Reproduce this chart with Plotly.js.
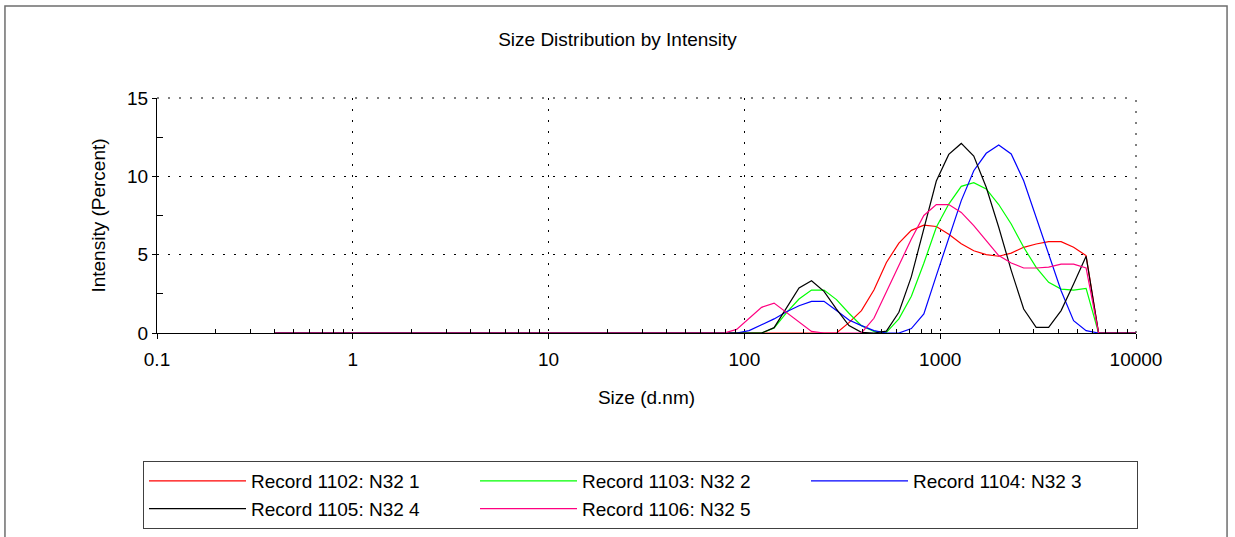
<!DOCTYPE html>
<html>
<head>
<meta charset="utf-8">
<script src="https://cdn.plot.ly/plotly-3.0.1.min.js"></script>
<style>
html,body{margin:0;padding:0;background:#fff;}
#chart{width:1235px;height:537px;}
</style>
</head>
<body>
<div id="chart"></div>
<script>
// Size bins (d.nm)
var sizes = [0.4,0.4632,0.5365,0.6213,0.7195,0.8332,0.9649,1.117,1.294,1.499,
  1.736,2.01,2.328,2.696,3.122,3.615,4.187,4.849,5.615,6.503,
  7.531,8.721,10.1,11.7,13.54,15.69,18.17,21.04,24.36,28.21,
  32.67,37.84,43.82,50.75,58.77,68.06,78.82,91.28,105.7,122.4,
  141.8,164.2,190.1,220.2,255,295.3,342,396.1,458.7,531.2,
  615.1,712.4,825,955.4,1106,1281,1484,1718,1990,2305,
  2669,3091,3580,4145,4801,5560,6439,7456,8635,10000];

var names = ["Record 1102: N32 1","Record 1103: N32 2","Record 1104: N32 3","Record 1105: N32 4","Record 1106: N32 5"];
var colors = ["#ff0000","#00ff00","#0000ff","#000000","#ff0080"];

var rec1102 = [0,0,0,0,0,0,0,0,0,0, 0,0,0,0,0,0,0,0,0,0, 0,0,0,0,0,0,0,0,0,0, 0,0,0,0,0,0,0,
  0,0,0,0,0,0,0,0,0,0.66,1.43,2.74,4.5,5.74,6.55,6.88,6.8,6.3,5.7,5.25,5.0,4.9,5.1,5.47,5.68,5.83,5.83,5.47,4.94,0,0,0,0];
var rec1103 = [0,0,0,0,0,0,0,0,0,0, 0,0,0,0,0,0,0,0,0,0, 0,0,0,0,0,0,0,0,0,0, 0,0,0,0,0,0,0,
  0,0,0,0.32,1.3,2.17,2.74,2.74,2.13,1.26,0.47,0.1,0.04,0.9,2.35,4.45,6.75,8.23,9.36,9.6,9.2,8.2,6.96,5.47,4.19,3.23,2.8,2.74,2.85,0,0,0,0];
var rec1104 = [0,0,0,0,0,0,0,0,0,0, 0,0,0,0,0,0,0,0,0,0, 0,0,0,0,0,0,0,0,0,0, 0,0,0,0,0,0,0,
  0,0.15,0.5,0.9,1.36,1.74,2.02,2.02,1.43,0.83,0.47,0.15,0,0,0.28,1.22,3.66,6.1,8.45,10.36,11.47,12.0,11.43,9.72,7.38,5.04,2.7,0.79,0.15,0,0,0,0];
var rec1105 = [0,0,0,0,0,0,0,0,0,0, 0,0,0,0,0,0,0,0,0,0, 0,0,0,0,0,0,0,0,0,0, 0,0,0,0,0,0,0,
  0,0,0,0.34,1.64,2.87,3.34,2.66,1.53,0.47,0.04,0,0.12,1.32,3.6,6.6,9.7,11.4,12.1,11.3,9.3,6.75,4.0,1.53,0.36,0.36,1.43,3.13,4.9,0,0,0,0];
var rec1106 = [0,0,0,0,0,0,0,0,0,0, 0,0,0,0,0,0,0,0,0,0, 0,0,0,0,0,0,0,0,0,0, 0,0,0,0,0,0,0,
  0.23,0.94,1.64,1.91,1.3,0.72,0.1,0,0,0,0,0.94,2.6,4.28,6.0,7.5,8.2,8.2,7.7,6.85,5.9,4.94,4.47,4.15,4.15,4.2,4.4,4.4,4.15,0,0,0,0];

var xTickVals = [0.1,1,10,100,1000,10000];
var xTickText = ["0.1","1","10","100","1000","10000"];
var yTickVals = [0,5,10,15];
var yMinorVals = [2.5,7.5,12.5];

var xMinorVals = [];
for (var d = 0; d < xTickVals.length - 1; d++) {
  for (var m = 2; m <= 9; m++) xMinorVals.push(xTickVals[d] * m);
}

var series = [rec1102, rec1103, rec1104, rec1105, rec1106];
var traces = series.map(function (vals, i) {
  return {
    x: sizes, y: vals, type: 'scatter', mode: 'lines',
    name: names[i], line: {color: colors[i], width: 1.2}
  };
});

var FONT = "Liberation Sans, Arial, sans-serif";
var DOT = '2px,9px';

var layout = {
  width: 1235, height: 537,
  paper_bgcolor: '#ffffff', plot_bgcolor: '#ffffff',
  margin: {l: 157, r: 99, t: 98, b: 204, autoexpand: false},
  font: {family: FONT, size: 19, color: '#000000'},
  title: {text: 'Size Distribution by Intensity', x: 0.5, xref: 'container',
          y: 0.926, yref: 'container', yanchor: 'middle',
          font: {family: FONT, size: 19, color: '#000000'}},
  showlegend: true,
  legend: {orientation: 'h', x: -0.0143, xanchor: 'left', y: -0.545, yanchor: 'top',
           bordercolor: '#404040', borderwidth: 1, bgcolor: '#ffffff',
           entrywidth: 219, entrywidthmode: 'pixels', itemwidth: 97,
           font: {family: FONT, size: 19, color: '#000000'}, traceorder: 'normal'},
  xaxis: {
    type: 'log', range: [-1, 4], autorange: false,
    tickmode: 'array', tickvals: xTickVals, ticktext: xTickText,
    ticks: 'outside', ticklen: 5, tickcolor: '#000', tickwidth: 1,
    ticklabelstandoff: 4,
    showline: true, linecolor: '#000', linewidth: 1, mirror: false,
    showgrid: true, gridcolor: '#000', gridwidth: 1, griddash: DOT,
    zeroline: false,
    minor: {tickmode: 'array', tickvals: xMinorVals, ticks: 'inside', ticklen: 4, tickcolor: '#000', showgrid: false},
    tickfont: {family: FONT, size: 19, color: '#000'},
    title: {text: 'Size (d.nm)', font: {family: FONT, size: 19, color: '#000'}, standoff: 21}
  },
  yaxis: {
    range: [0, 15], autorange: false,
    tickmode: 'array', tickvals: yTickVals,
    ticks: 'outside', ticklen: 4, tickcolor: '#000', tickwidth: 1,
    showline: true, linecolor: '#000', linewidth: 1, mirror: false,
    showgrid: true, gridcolor: '#000', gridwidth: 1, griddash: DOT,
    zeroline: false,
    minor: {tickmode: 'array', tickvals: yMinorVals, ticks: 'inside', ticklen: 6, tickcolor: '#000', showgrid: false},
    tickfont: {family: FONT, size: 19, color: '#000'},
    title: {text: 'Intensity (Percent)', font: {family: FONT, size: 19, color: '#000'}, standoff: 16}
  },
  shapes: [
    {type: 'rect', xref: 'paper', yref: 'paper', x0: -0.1553, x1: 1.093, y0: -0.95, y1: 1.3915,
     line: {color: '#6e6e6e', width: 1.5}, fillcolor: 'rgba(0,0,0,0)', layer: 'below'},
    {type: 'line', xref: 'paper', yref: 'paper', x0: 0, x1: 1, y0: 1, y1: 1,
     line: {color: '#000', width: 1, dash: DOT}, layer: 'below'},
    {type: 'line', xref: 'paper', yref: 'paper', x0: 1, x1: 1, y0: 0, y1: 1,
     line: {color: '#000', width: 1, dash: DOT}, layer: 'below'}
  ]
};

Plotly.newPlot('chart', traces, layout, {displayModeBar: false, staticPlot: true});
</script>
</body>
</html>
